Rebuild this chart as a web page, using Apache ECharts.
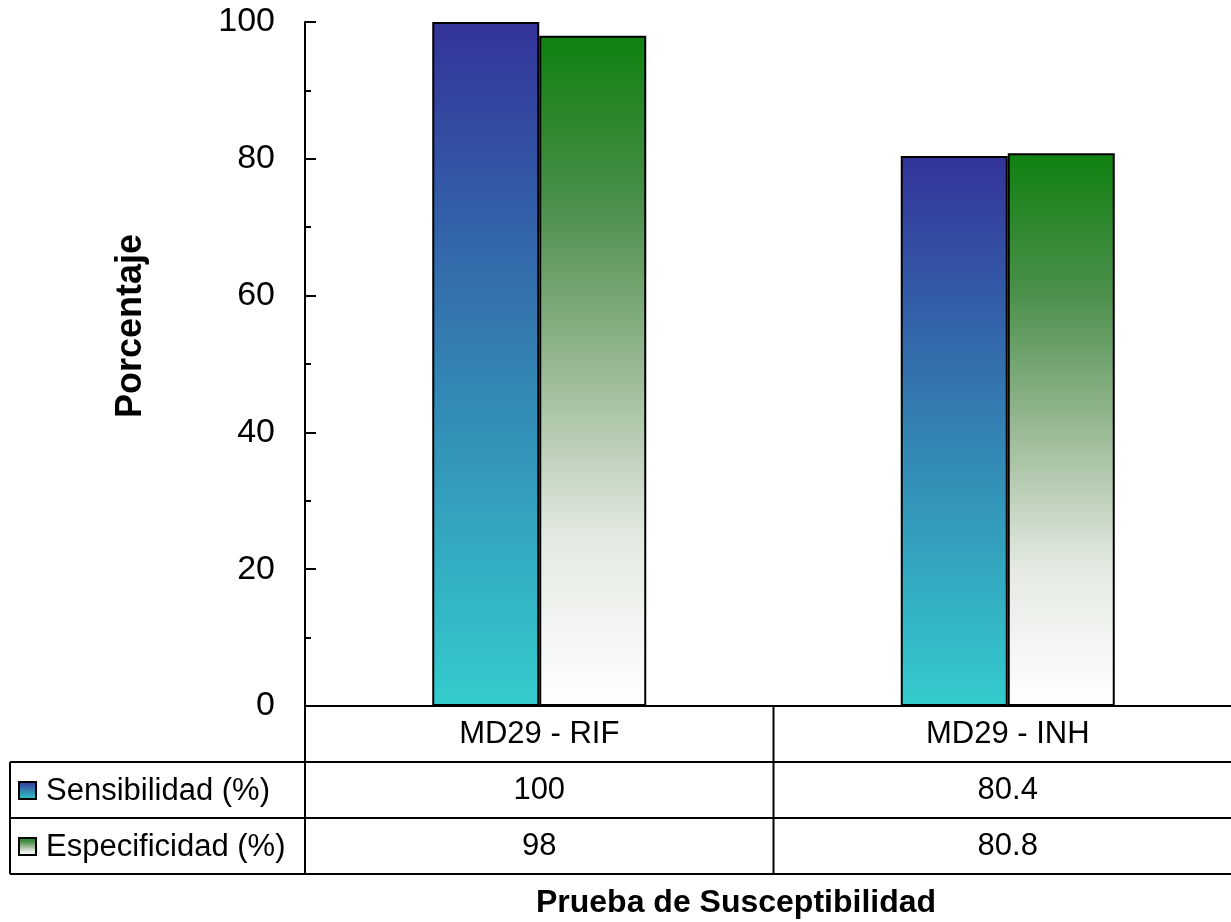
<!DOCTYPE html>
<html>
<head>
<meta charset="utf-8">
<script src="https://cdn.jsdelivr.net/npm/echarts@6/dist/echarts.min.js"></script>
<style>
  html, body { margin: 0; padding: 0; background: #fff; overflow: hidden; }
  #chart { width: 1242px; height: 922px; }
</style>
</head>
<body>
<div id="chart"></div>
<script>
// Susceptibility test results per method
const categories = ['MD29 - RIF', 'MD29 - INH'];
const seriesNames = ['Sensibilidad (%)', 'Especificidad (%)'];
const sensibilidad = [100, 80.4];
const especificidad = [98, 80.8];
const yTicks = { min: 0, max: 100, interval: 20 };
const xTitle = 'Prueba de Susceptibilidad';
const yTitle = 'Porcentaje';

const FONT = '"Liberation Sans", Arial, sans-serif';

const blueFill = new echarts.graphic.LinearGradient(0, 0, 0, 1, [
  { offset: 0, color: '#333399' },
  { offset: 0.5, color: '#3382b3' },
  { offset: 1, color: '#33cccc' }
]);
const greenFill = new echarts.graphic.LinearGradient(0, 0, 0, 1, [
  { offset: 0, color: '#0f800f' },
  { offset: 0.25, color: '#4a8f4a' },
  { offset: 0.5, color: '#9ab995' },
  { offset: 0.75, color: '#e4eae2' },
  { offset: 1, color: '#ffffff' }
]);
const fills = [blueFill, greenFill];

const chart = echarts.init(document.getElementById('chart'), null, { renderer: 'canvas' });

// the last column runs slightly past the visible right edge
const GRID = { left: 305, right: 0, top: 22, bottom: 216 };

chart.setOption({
  animation: false,
  backgroundColor: '#ffffff',
  textStyle: { fontFamily: FONT },
  grid: GRID,
  xAxis: {
    type: 'category',
    data: categories,
    axisLine: { show: true, lineStyle: { color: '#000', width: 2 } },
    axisTick: { show: false },
    axisLabel: {
      show: true, color: '#000', fontSize: 31, fontFamily: FONT, margin: 28, verticalAlign: 'middle'
    }
  },
  yAxis: {
    type: 'value',
    min: yTicks.min,
    max: yTicks.max,
    interval: yTicks.interval,
    axisLine: { show: true, lineStyle: { color: '#000', width: 2 } },
    axisTick: { show: true, inside: true, length: 11, lineStyle: { color: '#000', width: 2 } },
    minorTick: { show: true, splitNumber: 2, length: 6, lineStyle: { color: '#000', width: 2 } },
    splitLine: { show: false },
    axisLabel: { color: '#000', fontSize: 34, fontFamily: FONT, margin: 30 }
  },
  series: [
    {
      name: seriesNames[0], type: 'bar', data: sensibilidad,
      barWidth: 107, barGap: '0%',
      itemStyle: { color: blueFill, borderColor: '#000', borderWidth: 2 }
    },
    {
      name: seriesNames[1], type: 'bar', data: especificidad,
      barWidth: 107, barGap: '0%',
      itemStyle: { color: greenFill, borderColor: '#000', borderWidth: 2 }
    }
  ]
});

// Data table under the plot: legend keys plus one value per category
function buildTable() {
  const W = chart.getWidth();
  const x0 = GRID.left;
  const yAxisRow = chart.getHeight() - GRID.bottom;   // 706
  const rowH = 56;
  const rows = [yAxisRow + rowH, yAxisRow + 2 * rowH, yAxisRow + 3 * rowH];
  const tableLeft = 10;
  const line = { stroke: '#000', lineWidth: 2 };
  const els = [];

  // category column boundaries
  const centers = categories.map((c) => chart.convertToPixel({ xAxisIndex: 0 }, c));
  const dividers = [];
  for (let i = 0; i < centers.length - 1; i++) dividers.push((centers[i] + centers[i + 1]) / 2);

  // vertical lines
  els.push({ type: 'line', shape: { x1: x0, y1: yAxisRow, x2: x0, y2: rows[2] }, style: line });
  dividers.forEach(d => els.push({ type: 'line', shape: { x1: d, y1: yAxisRow, x2: d, y2: rows[2] }, style: line }));
  els.push({ type: 'line', shape: { x1: tableLeft, y1: rows[0], x2: tableLeft, y2: rows[2] }, style: line });

  // horizontal lines
  rows.forEach(y => els.push({ type: 'line', shape: { x1: tableLeft, y1: y, x2: W, y2: y }, style: line }));

  const seriesValues = [sensibilidad, especificidad];
  seriesValues.forEach((vals, r) => {
    const yMid = rows[r] + rowH / 2;
    // legend key
    els.push({
      type: 'rect', shape: { x: 19, y: yMid - 8, width: 17, height: 17 },
      style: { fill: fills[r], stroke: '#000', lineWidth: 2 }
    });
    els.push({
      type: 'text', x: 46, y: yMid + 1,
      style: { text: seriesNames[r], font: '31px ' + FONT, fill: '#000', textVerticalAlign: 'middle', textAlign: 'left' }
    });
    vals.forEach((v, i) => {
      els.push({
        type: 'text', x: centers[i], y: yMid,
        style: { text: String(v), font: '31px ' + FONT, fill: '#000', textAlign: 'center', textVerticalAlign: 'middle' }
      });
    });
  });

  // axis titles
  els.push({
    type: 'text', x: 736, y: 903,
    style: { text: xTitle, font: 'bold 32px ' + FONT, fill: '#000', textAlign: 'center', textVerticalAlign: 'middle' }
  });
  els.push({
    type: 'text', x: 131, y: 326, rotation: Math.PI / 2,
    style: { text: yTitle, font: 'bold 36px ' + FONT, fill: '#000', textAlign: 'center', textVerticalAlign: 'middle' }
  });

  chart.setOption({ graphic: { elements: els } });
}
buildTable();
</script>
</body>
</html>
